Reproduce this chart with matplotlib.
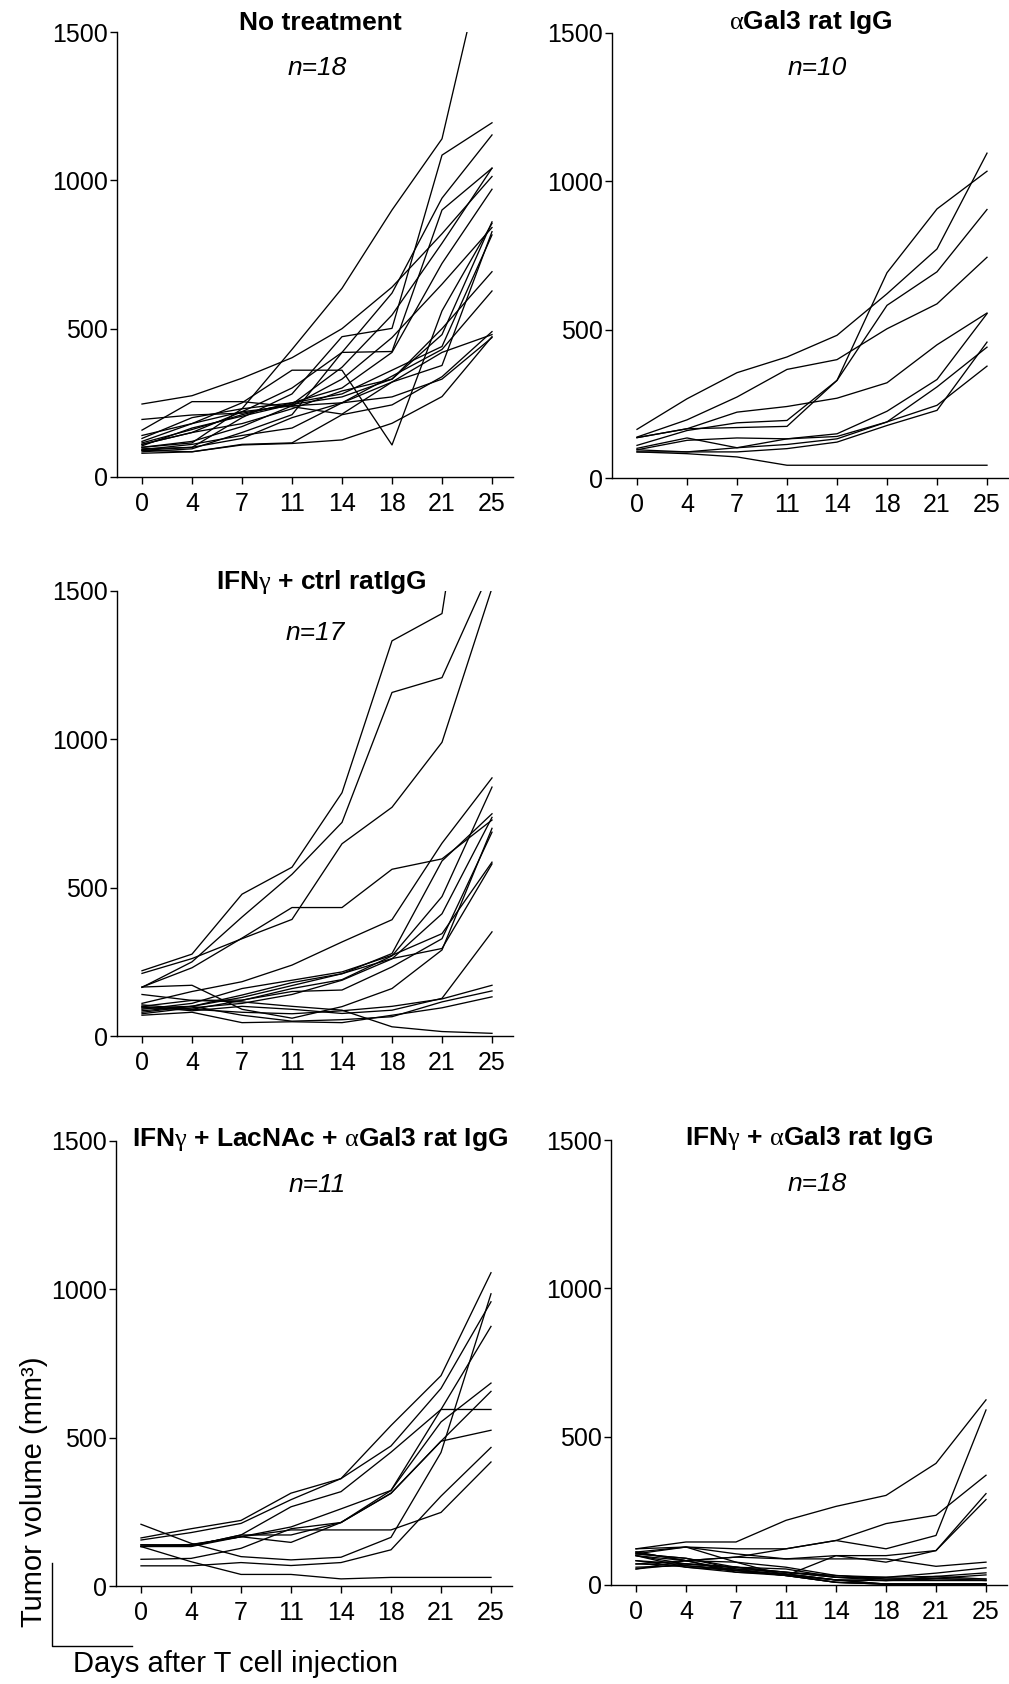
import matplotlib.pyplot as plt
from matplotlib.lines import Line2D

plt.rcParams['font.family'] = ['Liberation Sans', 'DejaVu Sans']
plt.rcParams['mathtext.fontset'] = 'custom'
plt.rcParams['mathtext.rm'] = 'Liberation Serif'
plt.rcParams['mathtext.default'] = 'rm'

W, H = 1009, 1684

# days after T cell injection (equally spaced on the axis)
days = ['0', '4', '7', '11', '14', '18', '21', '25']

# tumor volumes (mm3), one row per mouse
no_treatment = [
    [246, 274, 333, 402, 500, 640, 820, 1013],
    [100, 115, 230, 430, 636, 900, 1140, 1860],
    [120, 180, 250, 360, 360, 108, 560, 855],
    [85, 95, 150, 210, 420, 423, 900, 1041],
    [90, 100, 200, 280, 473, 501, 1085, 1194],
    [110, 150, 220, 300, 420, 620, 940, 1153],
    [105, 165, 205, 245, 370, 546, 788, 1041],
    [115, 160, 210, 250, 300, 420, 720, 970],
    [140, 180, 220, 240, 330, 470, 650, 841],
    [130, 200, 230, 250, 280, 360, 440, 816],
    [92, 110, 140, 165, 250, 320, 376, 827],
    [110, 150, 180, 230, 290, 330, 500, 692],
    [100, 120, 170, 240, 250, 340, 430, 627],
    [90, 85, 110, 115, 210, 243, 338, 490],
    [80, 85, 108, 113, 125, 181, 271, 473],
    [95, 100, 130, 200, 250, 270, 330, 470],
    [158, 254, 254, 237, 212, 320, 420, 480],
    [194, 209, 215, 245, 270, 330, 480, 860],
]

agal3 = [
    [164, 267, 355, 408, 481, 621, 772, 1095],
    [138, 196, 273, 366, 399, 503, 587, 744],
    [110, 160, 186, 194, 329, 692, 907, 1034],
    [136, 166, 222, 241, 269, 321, 449, 556],
    [136, 166, 170, 174, 329, 582, 695, 905],
    [95, 127, 135, 132, 149, 225, 332, 554],
    [95, 88, 102, 113, 132, 189, 307, 441],
    [88, 88, 88, 99, 121, 177, 228, 458],
    [100, 135, 102, 132, 140, 189, 245, 377],
    [88, 82, 71, 43, 43, 43, 43, 43],
]

ifng_ctrl = [
    [220, 276, 478, 569, 820, 1332, 1424, 2500],
    [164, 250, 401, 545, 720, 1158, 1208, 1582],
    [211, 261, 328, 393, 648, 771, 990, 1510],
    [165, 230, 330, 433, 433, 562, 597, 728],
    [110, 150, 183, 239, 317, 392, 650, 870],
    [95, 90, 120, 160, 190, 270, 470, 839],
    [85, 100, 130, 170, 210, 278, 590, 749],
    [75, 95, 110, 140, 188, 260, 412, 737],
    [100, 120, 121, 150, 155, 233, 328, 687],
    [80, 100, 138, 180, 210, 261, 295, 580],
    [90, 110, 160, 188, 216, 272, 345, 586],
    [100, 85, 100, 90, 76, 87, 127, 351],
    [105, 90, 80, 75, 85, 100, 125, 171],
    [95, 100, 70, 50, 55, 65, 115, 152],
    [70, 80, 45, 48, 45, 70, 95, 132],
    [140, 120, 115, 100, 87, 31, 15, 9],
    [165, 171, 90, 60, 99, 160, 290, 700],
]

ifng_lacnac_agal3 = [
    [162, 193, 221, 313, 362, 541, 709, 1056],
    [155, 180, 211, 291, 362, 472, 666, 958],
    [139, 135, 172, 267, 318, 451, 595, 875],
    [133, 133, 166, 199, 260, 322, 553, 684],
    [135, 135, 172, 172, 214, 312, 488, 525],
    [133, 140, 166, 147, 214, 322, 595, 595],
    [90, 93, 127, 193, 214, 313, 488, 656],
    [208, 144, 99, 88, 97, 164, 450, 985],
    [68, 68, 79, 69, 79, 122, 303, 467],
    [139, 139, 166, 189, 189, 189, 248, 418],
    [133, 82, 39, 39, 24, 29, 29, 29],
]

ifng_agal3 = [
    [122, 145, 145, 218, 265, 302, 410, 624],
    [111, 128, 122, 122, 150, 122, 167, 590],
    [54, 82, 94, 122, 150, 207, 235, 370],
    [105, 128, 105, 88, 99, 77, 116, 308],
    [71, 82, 77, 32, 99, 99, 116, 288],
    [99, 82, 94, 88, 88, 88, 63, 77],
    [82, 71, 60, 54, 26, 26, 40, 58],
    [105, 90, 60, 37, 17, 15, 29, 41],
    [111, 82, 49, 32, 9, 3, 3, 3],
    [99, 71, 60, 43, 26, 20, 23, 34],
    [82, 60, 43, 37, 17, 15, 20, 20],
    [71, 65, 54, 32, 9, 3, 3, 3],
    [105, 90, 54, 43, 32, 20, 23, 15],
    [60, 65, 49, 37, 17, 3, 3, 3],
    [122, 128, 77, 60, 32, 26, 29, 20],
    [54, 71, 60, 43, 26, 15, 15, 15],
    [111, 82, 43, 32, 17, 3, 3, 3],
    [99, 60, 49, 32, 9, 3, 3, 3],
]

fig = plt.figure(figsize=(W / 100, H / 100), dpi=100)


def fxy(x, y):
    # pixel position -> figure fraction
    return x / W, 1 - y / H


def draw_panel(left, zero_y, curves, title, n_label, title_xy, n_xy):
    ax = fig.add_axes([left / W, 1 - zero_y / H, 396 / W, 445 / H])
    for c in curves:
        ax.plot(range(len(days)), c, color='black', lw=0.95)
    ax.set_xlim(-0.5, 7.42)
    ax.set_ylim(0, 1500)
    ax.set_yticks([0, 500, 1000, 1500])
    ax.set_xticks(range(len(days)))
    ax.set_xticklabels(days)
    for s in ['top', 'right']:
        ax.spines[s].set_visible(False)
    for s in ['left', 'bottom']:
        ax.spines[s].set_linewidth(1.0)
    ax.tick_params(axis='both', labelsize=18, length=5, width=1.0, direction='out')
    ax.tick_params(axis='y', pad=1.5)
    ax.tick_params(axis='x', pad=6)
    fig.text(*fxy(*title_xy), title, ha='center', va='baseline',
             fontsize=19, fontweight='bold')
    fig.text(*fxy(*n_xy), n_label, ha='center', va='baseline',
             fontsize=19, style='italic')
    return ax


draw_panel(117, 477, no_treatment, 'No treatment', 'n=18', (320, 30), (317, 75))
draw_panel(612, 478, agal3, r'$\alpha$Gal3 rat IgG', 'n=10', (811, 29), (817, 75))
draw_panel(117, 1036, ifng_ctrl, r'IFN$\gamma$ + ctrl ratIgG', 'n=17', (321, 589), (315, 640))
draw_panel(116, 1586, ifng_lacnac_agal3, r'IFN$\gamma$ + LacNAc + $\alpha$Gal3 rat IgG', 'n=11',
           (320, 1146), (317, 1192))
draw_panel(611, 1585, ifng_agal3, r'IFN$\gamma$ + $\alpha$Gal3 rat IgG', 'n=18', (809, 1145), (817, 1191))

# shared axis labels with the small corner bracket
fig.text(*fxy(42, 1627), 'Tumor volume (mm³)', rotation=90, rotation_mode='anchor',
         ha='left', va='baseline', fontsize=21)
fig.text(*fxy(73, 1672), 'Days after T cell injection', ha='left', va='baseline', fontsize=21)
bx, by = zip(fxy(52, 1563), fxy(52, 1646), fxy(132, 1646))
fig.add_artist(Line2D(bx, by, transform=fig.transFigure, color='black', lw=1.0))

fig.savefig('out.png', dpi=100)
